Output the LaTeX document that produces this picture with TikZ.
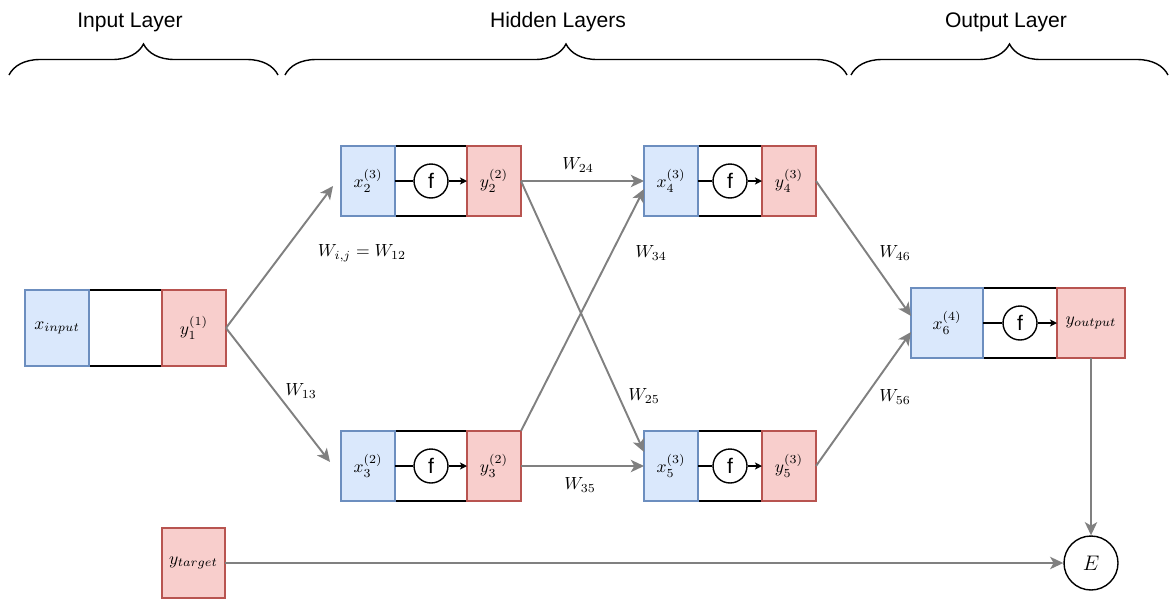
\documentclass[tikz,border=0pt]{standalone}
\usepackage{fontspec}
\newfontfamily\labelfont{Liberation Sans}
\usetikzlibrary{arrows.meta, positioning, decorations.pathreplacing}
\definecolor{inblue}{HTML}{DAE8FC}
\definecolor{inblueline}{HTML}{6C8EBF}
\definecolor{outred}{HTML}{F8CECC}
\definecolor{outredline}{HTML}{B85450}
\definecolor{wgray}{HTML}{808080}

\begin{document}
\begin{tikzpicture}[
        x=0.02cm, y=-0.02cm,
        xin/.style={rectangle, draw=inblueline, fill=inblue, line width=0.8pt, minimum width=1.08cm, minimum height=1.4cm, inner sep=0pt, outer sep=0pt},
        yout/.style={rectangle, draw=outredline, fill=outred, line width=0.8pt, minimum width=1.08cm, minimum height=1.4cm, inner sep=0pt, outer sep=0pt},
        mid/.style={rectangle, draw, line width=0.8pt, minimum width=1.44cm, minimum height=1.4cm, outer sep=0pt},
        fnode/.style={circle, draw, fill=white, line width=0.8pt, minimum size=0.68cm, inner sep=0pt, font=\labelfont\fontsize{12}{14}\selectfont},
        farr/.style={line width=0.8pt},
        warr/.style={-{Stealth[length=7.5pt, width=7pt, inset=2pt]}, wgray, line width=1.1pt},
        layer/.style={font=\labelfont\fontsize{12}{14}\selectfont},
        brc/.style={decorate, decoration={brace, amplitude=0.62cm}, line width=0.8pt}
    ]
        \useasboundingbox (0,0) rectangle (1169,599);

        % Layer braces
        \node[layer] (lin) at (130,22) {Input Layer};
        \node[layer] (lhid) at (558,22) {Hidden Layers};
        \node[layer] (lout) at (1006,22) {Output Layer};
        \draw[brc] (9,75) -- (278,75);
        \draw[brc] (285,75) -- (847,75);
        \draw[brc] (851,75) -- (1168,75);

        % Input layer
        \node[mid, minimum width=1.46cm, minimum height=1.52cm] (m1) at (125.5,328) {};
        \node[xin, minimum width=1.28cm, minimum height=1.52cm, left=0pt of m1] (xi) {$x_{input}$};
        \node[yout, minimum width=1.28cm, minimum height=1.52cm, right=0pt of m1] (y1) {$y_1^{(1)}$};

        % Hidden layer 1
        \node[mid] (m2) at (431,181) {};
        \node[xin, left=0pt of m2] (x2) {$x_2^{(3)}$};
        \node[yout, right=0pt of m2] (y2) {$y_2^{(2)}$};
        \node[fnode] (f2) at (m2) {f};
        \draw[farr] (x2) -- (f2);
        \draw[farr, -{Stealth[length=4pt, width=4pt, inset=1pt]}] (f2) -- (y2);

        \node[mid] (m3) at (431,466) {};
        \node[xin, left=0pt of m3] (x3) {$x_3^{(2)}$};
        \node[yout, right=0pt of m3] (y3) {$y_3^{(2)}$};
        \node[fnode] (f3) at (m3) {f};
        \draw[farr] (x3) -- (f3);
        \draw[farr, -{Stealth[length=4pt, width=4pt, inset=1pt]}] (f3) -- (y3);

        % Hidden layer 2
        \node[mid, minimum width=1.28cm] (m4) at (730,181) {};
        \node[xin, left=0pt of m4] (x4) {$x_4^{(3)}$};
        \node[yout, right=0pt of m4] (y4) {$y_4^{(3)}$};
        \node[fnode] (f4) at (m4) {f};
        \draw[farr] (x4) -- (f4);
        \draw[farr, -{Stealth[length=4pt, width=4pt, inset=1pt]}] (f4) -- (y4);

        \node[mid, minimum width=1.28cm] (m5) at (730,466) {};
        \node[xin, left=0pt of m5] (x5) {$x_5^{(3)}$};
        \node[yout, right=0pt of m5] (y5) {$y_5^{(3)}$};
        \node[fnode] (f5) at (m5) {f};
        \draw[farr] (x5) -- (f5);
        \draw[farr, -{Stealth[length=4pt, width=4pt, inset=1pt]}] (f5) -- (y5);

        % Output layer
        \node[mid, minimum width=1.48cm] (m6) at (1020,323) {};
        \node[xin, minimum width=1.44cm, left=0pt of m6] (x6) {$x_6^{(4)}$};
        \node[yout, minimum width=1.36cm, right=0pt of m6] (yo) {$y_{output}$};
        \node[fnode] (f6) at (m6) {f};
        \draw[farr] (x6) -- (f6);
        \draw[farr, -{Stealth[length=4pt, width=4pt, inset=1pt]}] (f6) -- (yo);

        % Target and error
        \node[yout, minimum width=1.26cm] (yt) at (193.5,563) {$y_{target}$};
        \node[circle, draw, line width=0.8pt, minimum size=1.08cm, inner sep=0pt, font=\large] (err) at (1091,563) {$E$};

        % Weights
        \draw[warr] (y1.east) -- ([xshift=-0.16cm, yshift=-0.1cm]x2.west);
        \draw[warr] (y1.east) -- ([xshift=-0.22cm, yshift=0.08cm]x3.west);
        \draw[warr] (y2.east) -- (x4.west);
        \draw[warr] (y2.east) -- ([yshift=0.28cm]x5.west);
        \draw[warr] (y3.north east) -- ([yshift=-0.16cm]x4.west);
        \draw[warr] (y3.east) -- (x5.west);
        \draw[warr] (y4.east) -- ([yshift=0.14cm]x6.west);
        \draw[warr] (y5.east) -- ([yshift=-0.18cm]x6.west);
        \draw[warr] (yo.south) -- (err.north);
        \draw[warr] (yt.east) -- (err.west);

        \node (w12) at (362,253) {$W_{i,j} = W_{12}$};
        \node (w13) at (301,391) {$W_{13}$};
        \node (w24) at (578,165) {$W_{24}$};
        \node (w34) at (651,253) {$W_{34}$};
        \node (w25) at (644,396) {$W_{25}$};
        \node (w35) at (580,485) {$W_{35}$};
        \node (w46) at (895,253) {$W_{46}$};
        \node (w56) at (895,397) {$W_{56}$};
\end{tikzpicture}
\end{document}
